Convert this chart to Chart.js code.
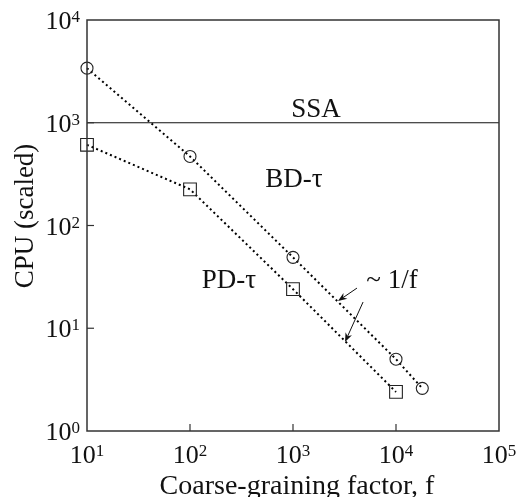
<!DOCTYPE html>
<html>
<head>
<meta charset="utf-8">
<script src="https://cdn.jsdelivr.net/npm/chart.js@4.4.0/dist/chart.umd.min.js"></script>
<style>
  html, body { margin:0; padding:0; background:#fff; }
  canvas { display:block; }
</style>
</head>
<body>
<canvas id="cpuChart" width="518" height="497"></canvas>
<script>
/* ---------- data ---------- */
const bdFactor = [10, 100, 1000, 10000, 18000];
const bdCpu    = [3400, 470, 49, 5.0, 2.6];
const pdFactor = [10, 100, 1000, 10000];
const pdCpu    = [610, 225, 24, 2.4];
const ssaFactor = [10, 100000];
const ssaCpu    = [1000, 1000];

const xTickExp = [1, 2, 3, 4, 5];
const yTickExp = [0, 1, 2, 3, 4];

// text notes: [text, f, cpu] (centre x, baseline y in data units)
const notes = [
  ['SSA', 1670, 1138],
  ['BD-\u03C4', 1023, 237],
  ['PD-\u03C4', 239, 24.6],
  ['~ 1/f', 9140, 24.6]
];
// arrows: [fromF, fromCpu, toF, toCpu]
const arrows = [
  [4180, 24.6, 2735, 18.4],
  [4790, 18.0, 3200, 7.35]
];

const SERIF = '"Liberation Serif", "Times New Roman", serif';
const INK = '#111';

function pts(xs, ys){
  return xs.map((x, i) => ({ x, y: ys[i] }));
}

/* ---------- power-of-ten label ---------- */
function drawPow(ctx, x, y, exp, align){
  ctx.font = '26px ' + SERIF;
  const wBase = ctx.measureText('10').width;
  ctx.font = '17px ' + SERIF;
  const wExp = ctx.measureText(String(exp)).width;
  const total = wBase + wExp;
  let x0 = align === 'right' ? x - total : x - total / 2;
  ctx.textAlign = 'left';
  ctx.textBaseline = 'alphabetic';
  ctx.font = '26px ' + SERIF;
  ctx.fillText('10', x0, y);
  ctx.font = '17px ' + SERIF;
  ctx.fillText(String(exp), x0 + wBase, y - 7);
}

function drawArrow(ctx, x0, y0, x1, y1){
  const a = Math.atan2(y1 - y0, x1 - x0);
  const len = 9, half = 3.5;
  ctx.beginPath();
  ctx.moveTo(x0, y0);
  ctx.lineTo(x1 - Math.cos(a) * len * 0.7, y1 - Math.sin(a) * len * 0.7);
  ctx.stroke();
  ctx.beginPath();
  ctx.moveTo(x1, y1);
  ctx.lineTo(x1 - Math.cos(a) * len + Math.sin(a) * half, y1 - Math.sin(a) * len - Math.cos(a) * half);
  ctx.lineTo(x1 - Math.cos(a) * len * 0.7, y1 - Math.sin(a) * len * 0.7);
  ctx.lineTo(x1 - Math.cos(a) * len - Math.sin(a) * half, y1 - Math.sin(a) * len + Math.cos(a) * half);
  ctx.closePath();
  ctx.fill();
}

const framePlugin = {
  id: 'frame',
  beforeDraw(chart){
    const ctx = chart.ctx;
    ctx.save();
    ctx.fillStyle = '#fff';
    ctx.fillRect(0, 0, chart.width, chart.height);
    ctx.restore();
  },
  afterDraw(chart){
    const { ctx, chartArea: a, scales } = chart;
    const xs = scales.x, ys = scales.y;
    ctx.save();
    ctx.strokeStyle = '#333';
    ctx.fillStyle = INK;

    // box
    ctx.lineWidth = 1.5;
    ctx.strokeRect(a.left, a.top, a.right - a.left, a.bottom - a.top);

    // inward ticks + labels
    ctx.lineWidth = 1.2;
    xTickExp.forEach(e => {
      const px = xs.getPixelForValue(Math.pow(10, e));
      if(e > 1 && e < 5){
        ctx.beginPath(); ctx.moveTo(px, a.bottom); ctx.lineTo(px, a.bottom - 7); ctx.stroke();
      }
      drawPow(ctx, px, a.bottom + 32, e, 'center');
    });
    yTickExp.forEach(e => {
      const py = ys.getPixelForValue(Math.pow(10, e));
      if(e > 0 && e < 4){
        ctx.beginPath(); ctx.moveTo(a.left, py); ctx.lineTo(a.left + 7, py); ctx.stroke();
      }
      drawPow(ctx, 80, py + 9, e, 'right');
    });

    // axis titles
    ctx.font = '28px ' + SERIF;
    ctx.textAlign = 'center';
    ctx.textBaseline = 'alphabetic';
    ctx.fillText('Coarse-graining factor, f', (a.left + a.right) / 2 + 4, 494);
    ctx.font = '27px ' + SERIF;
    ctx.save();
    ctx.translate(33, 216);
    ctx.rotate(-Math.PI / 2);
    ctx.fillText('CPU (scaled)', 0, 0);
    ctx.restore();

    // notes
    notes.forEach(([t, f, c]) => {
      ctx.fillText(t, xs.getPixelForValue(f), ys.getPixelForValue(c));
    });

    // arrows
    ctx.strokeStyle = INK;
    ctx.lineWidth = 1;
    arrows.forEach(([f0, c0, f1, c1]) => {
      drawArrow(ctx, xs.getPixelForValue(f0), ys.getPixelForValue(c0),
                     xs.getPixelForValue(f1), ys.getPixelForValue(c1));
    });
    ctx.restore();
  }
};

const dotted = { borderColor: '#000', borderWidth: 2, borderDash: [2, 3], showLine: true, clip: false };

new Chart(document.getElementById('cpuChart'), {
  type: 'scatter',
  data: {
    datasets: [
      { ...dotted, label: 'BD-tau', data: pts(bdFactor, bdCpu),
        pointStyle: 'circle', pointRadius: 6, pointBorderWidth: 1.1,
        pointBorderColor: '#222', pointBackgroundColor: 'rgba(0,0,0,0)' },
      { ...dotted, label: 'PD-tau', data: pts(pdFactor, pdCpu),
        pointStyle: 'rect', pointRadius: 9, pointBorderWidth: 1.1,
        pointBorderColor: '#222', pointBackgroundColor: 'rgba(0,0,0,0)' },
      { label: 'SSA', data: pts(ssaFactor, ssaCpu), showLine: true,
        borderColor: INK, borderWidth: 1.2, pointRadius: 0 }
    ]
  },
  options: {
    responsive: false,
    animation: false,
    devicePixelRatio: 1,
    layout: { padding: { top: 20, right: 19, left: 0, bottom: 0 } },
    plugins: { legend: { display: false }, tooltip: { enabled: false } },
    scales: {
      x: {
        type: 'logarithmic', min: 10, max: 100000,
        grid: { display: false }, border: { display: false },
        ticks: { display: false },
        afterFit: s => { s.height = 66; }
      },
      y: {
        type: 'logarithmic', min: 1, max: 10000,
        grid: { display: false }, border: { display: false },
        ticks: { display: false },
        afterFit: s => { s.width = 87; }
      }
    }
  },
  plugins: [framePlugin]
});
</script>
</body>
</html>
